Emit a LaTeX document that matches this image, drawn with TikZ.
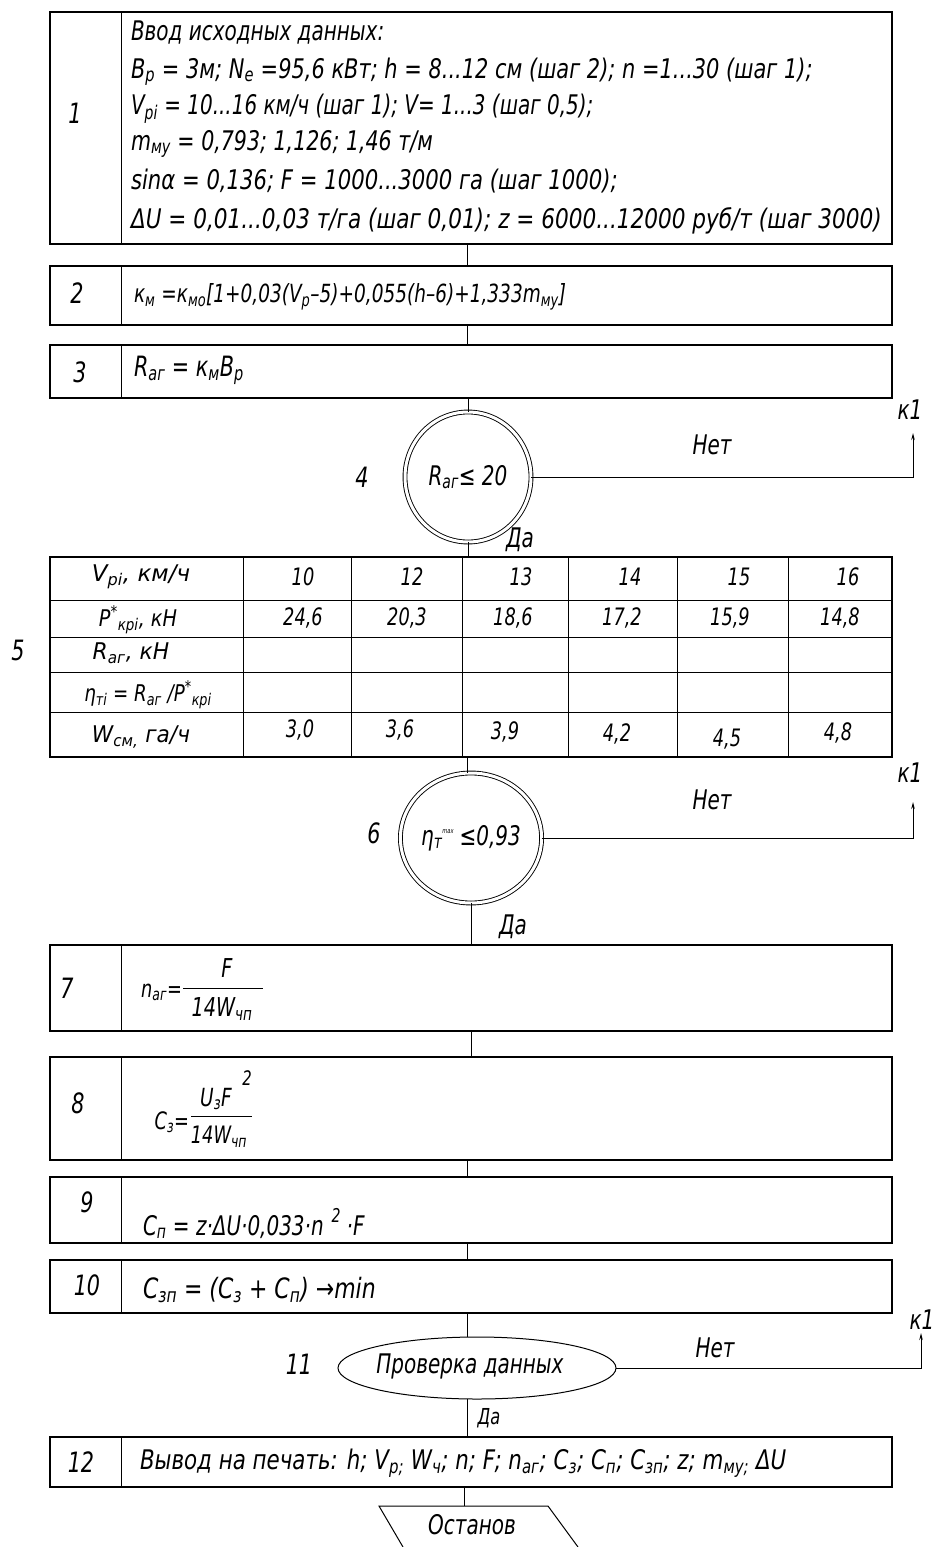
\documentclass[tikz,border=0pt]{standalone}
\usepackage{graphicx}
\usepackage{fontspec}
\setmainfont{DejaVu Sans}[FakeStretch=0.74]
\usetikzlibrary{shapes.geometric,arrows.meta,calc}
\newcommand\fs[1]{\fontsize{#1}{#1}\selectfont}
\newcommand\sbs[1]{\textsubscript{#1}}
\newcommand\sps[1]{\textsuperscript{#1}}
\newcommand\hsc[2]{\scalebox{#1}[1]{#2}}
\begin{document}
\begin{tikzpicture}[x=1pt,y=-1pt,
  every node/.style={inner sep=0pt, outer sep=0pt, font=\itshape\fs{27}},
  ln/.style={line width=1pt},
  blk/.style={draw, line width=1.2pt, minimum width=842pt},
  num/.style={font=\itshape\fs{28}},
  dcirc/.style={draw, ellipse, double, double distance=3pt, line width=0.9pt, minimum width=126pt, minimum height=130pt},
  tip/.style={-{Stealth[length=7pt,width=3.5pt]}},
  tcell/.style={font=\itshape\fs{23}},
  tval/.style={font=\itshape\fs{24}}
]
\useasboundingbox (0,0) rectangle (933,1547);
\coordinate (axis) at (467,0);

% ---------- block 1
\node[blk, minimum height=232pt] (b1) at (471,128) {};
\draw[ln] ($(b1.north west)+(71,0)$) -- ($(b1.south west)+(71,0)$);
\node[num] (n1) at (75,113) {1};
\node[anchor=base west] (t1a) at (131,40) {Ввод исходных данных:};
\node[anchor=base west] (t1b) at (131,78) {\hsc{1.048}{B\sbs{p} = 3м; N\sbs{e} =95,6 кВт; h = 8...12 см (шаг 2); n =1...30 (шаг 1);}};
\node[anchor=base west] (t1c) at (131,114) {V\sbs{pi} = 10...16 км/ч (шаг 1); V= 1...3 (шаг 0,5);};
\node[anchor=base west] (t1d) at (131,150) {\hsc{1.03}{m\sbs{му} = 0,793; 1,126; 1,46 т/м}};
\node[anchor=base west] (t1e) at (131,189) {\hsc{1.06}{sinα = 0,136; F = 1000...3000 га (шаг 1000);}};
\node[anchor=base west] (t1f) at (131,228) {\hsc{1.08}{ΔU = 0,01...0,03 т/га (шаг 0,01); z = 6000...12000 руб/т (шаг 3000)}};

% ---------- block 2
\node[blk, minimum height=59pt] (b2) at (471,295.5) {};
\draw[ln] ($(b2.north west)+(71,0)$) -- ($(b2.south west)+(71,0)$);
\node[num] (n2) at (77,293) {2};
\node[anchor=west, font=\itshape\fs{25}] (t2) at (134,297) {к\sbs{м} =к\sbs{мо}[1+0,03(V\sbs{р}–5)+0,055(h–6)+1,333m\sbs{му}]};

% ---------- block 3
\node[blk, minimum height=53pt] (b3) at (471,371.5) {};
\draw[ln] ($(b3.north west)+(71,0)$) -- ($(b3.south west)+(71,0)$);
\node[num] (n3) at (80,372) {3};
\node[anchor=west, font=\itshape\fs{28}] (t3) at (134,370) {R\sbs{аг} = к\sbs{м}B\sbs{р}};

% ---------- decision 4
\node[dcirc] (d4) at (468,477) {R\sbs{аг}≤ 20};
\node[num] (n4) at (362,477) {4};
\coordinate (k4) at (913,433);
\node (no4) at (712,445) {Нет};
\node (c4) at (910,410) {к1};
\node (yes4) at (520,540) {Да};

% ---------- table 5
\node[draw, line width=1.2pt, minimum width=842pt, minimum height=200pt] (tb) at (471,657) {};
\foreach \xx in {243,351,462,568,677,788}
  \draw[ln] (\xx,557) -- (\xx,757);
\foreach \yy in {600,637,672,712}
  \draw[ln] (50,\yy) -- (892,\yy);
\node[num] (n5) at (18,650) {5};
\node[tcell] (h1) at (141,577) {\hsc{1.35}{V\sbs{pi}, км/ч}};
\node[tcell] (h2) at (138,620) {\hsc{1.13}{P\sps{*}\sbs{кpi}, кН}};
\node[tcell] (h3) at (131,653) {\hsc{1.28}{R\sbs{аг}, кН}};
\node[tcell] (h4) at (148,695) {\hsc{1.07}{η\sbs{тi} = R\sbs{аг} /P\sps{*}\sbs{кpi}}};
\node[tcell] (h5) at (141,737) {\hsc{1.27}{W\sbs{см,} га/ч}};
\foreach \v [count=\i] in {10,12,13,14,15,16}
  \node[tval] (r1c\i) at ({297+(\i-1)*109+6},577) {\v};
\node[tval] (r2c1) at (303,618) {24,6};
\node[tval] (r2c2) at (407,618) {20,3};
\node[tval] (r2c3) at (513,618) {18,6};
\node[tval] (r2c4) at (622,618) {17,2};
\node[tval] (r2c5) at (730,618) {15,9};
\node[tval] (r2c6) at (840,618) {14,8};
\node[tval] (r5c1) at (300,730) {3,0};
\node[tval] (r5c2) at (400,730) {3,6};
\node[tval] (r5c3) at (505,732) {3,9};
\node[tval] (r5c4) at (617,734) {4,2};
\node[tval] (r5c5) at (727,739) {4,5};
\node[tval] (r5c6) at (838,733) {4,8};

% ---------- decision 6
\node[dcirc] (d6) at (471,838) {η\sbs{т}\raisebox{12pt}{\fs{7}max}\hspace{6pt}≤0,93};
\node[num] (n6) at (374,833) {6};
\coordinate (k6) at (913,802);
\node (no6) at (712,800) {Нет};
\node (c6) at (910,773) {к1};
\node (yes6) at (513,927) {Да};

% ---------- block 7
\node[blk, minimum height=86pt] (b7) at (471,988) {};
\draw[ln] ($(b7.north west)+(71,0)$) -- ($(b7.south west)+(71,0)$);
\node[num] (n7) at (67,988) {7};
\node[anchor=base east, font=\itshape\fs{24}] (f7l) at (182,997) {n\sbs{аг}=};
\node[font=\itshape\fs{26}] (f7n) at (227,968) {F};
\node[font=\itshape\fs{26}] (f7d) at (222,1009) {14W\sbs{чп}};
\draw[ln] (183,988) -- (263,988);

% ---------- block 8
\node[blk, minimum height=103pt] (b8) at (471,1108.5) {};
\draw[ln] ($(b8.north west)+(71,0)$) -- ($(b8.south west)+(71,0)$);
\node[num] (n8) at (78,1103) {8};
\node[anchor=base east, font=\itshape\fs{24}] (f8l) at (189,1129) {C\sbs{з}=};
\node[font=\itshape\fs{25}] (f8n) at (216,1099) {U\sbs{з}F};
\node[font=\itshape\fs{20}] (f8s) at (247,1078) {2};
\node[font=\itshape\fs{24}] (f8d) at (219,1137) {14W\sbs{чп}};
\draw[ln] (191,1116) -- (252,1116);

% ---------- block 9
\node[blk, minimum height=66pt] (b9) at (471,1210) {};
\draw[ln] ($(b9.north west)+(71,0)$) -- ($(b9.south west)+(71,0)$);
\node[num] (n9) at (87,1202) {9};
\node[anchor=base west, font=\itshape\fs{27}] (t9) at (143,1235) {C\sbs{п} = z·ΔU·0,033·n\hspace{8pt}\raisebox{13pt}{\fs{19}2}\hspace{6pt}·F};

% ---------- block 10
\node[blk, minimum height=53pt] (b10) at (471,1286.5) {};
\draw[ln] ($(b10.north west)+(71,0)$) -- ($(b10.south west)+(71,0)$);
\node[num] (n10) at (87,1285) {10};
\node[anchor=west, font=\itshape\fs{28}] (t10) at (143,1290) {\hsc{1.06}{C\sbs{зп} = (C\sbs{з} + C\sbs{п}) →min}};

% ---------- decision 11
\node[draw, ellipse, line width=1pt, minimum width=278pt, minimum height=62pt] (d11) at (477,1368) {};
\node (t11) at (470,1366) {Проверка данных};
\node[num] (n11) at (299,1364) {11};
\coordinate (k11) at (921,1333);
\node (no11) at (715,1348) {Нет};
\node (c11) at (922,1320) {к1};
\node[font=\itshape\fs{22}] (yes11) at (489,1418) {Да};

% ---------- block 12
\node[blk, minimum height=50pt] (b12) at (471,1462) {};
\draw[ln] ($(b12.north west)+(71,0)$) -- ($(b12.south west)+(71,0)$);
\node[num] (n12) at (81,1462) {12};
\node[anchor=west, font=\itshape\fs{27}] (t12) at (140,1463) {\hsc{1.07}{Вывод на печать: h; V\sbs{р;} W\sbs{ч}; n; F; n\sbs{аг}; C\sbs{з}; C\sbs{п}; C\sbs{зп}; z; m\sbs{му;} ΔU}};

% ---------- stop
\coordinate (ptop) at (464,1506);
\draw[ln] (403,1547) -- (379,1506) -- (548,1506) -- (578,1547);
\node (stop) at (472,1525) {Останов};

% ---------- connectors
\draw[ln] (b1.south -| axis) -- (b2.north -| axis);
\draw[ln] (b2.south -| axis) -- (b3.north -| axis);
\draw[ln] (b3.south -| d4) -- (d4.north);
\draw[ln] (d4.south) -- (tb.north -| d4);
\draw[ln] (tb.south -| axis) -- (d6.north -| axis);
\draw[ln] (d6.south) -- (b7.north -| d6);
\draw[ln] (b7.south -| d6) -- (b8.north -| d6);
\draw[ln] (b8.south -| axis) -- (b9.north -| axis);
\draw[ln] (b9.south -| axis) -- (b10.north -| axis);
\draw[ln] (b10.south -| axis) -- (d11.north -| axis);
\draw[ln] (d11.south -| axis) -- (b12.north -| axis);
\draw[ln] (b12.south -| ptop) -- (ptop);
\draw[ln, tip] (d4.east) -| (k4);
\draw[ln, tip] (d6.east) -| (k6);
\draw[ln, tip] (d11.east) -| (k11);
\end{tikzpicture}
\end{document}
